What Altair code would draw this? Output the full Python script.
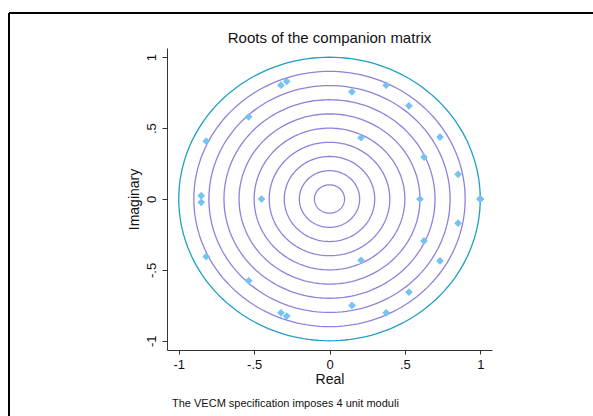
import altair as alt
import pandas as pd

# ---- data ----
root_re = [1.0, 1.0, 1.0, 1.0, 0.60, -0.451, -0.851, -0.851, -0.818, -0.818,
           -0.536, -0.536, -0.322, -0.284, -0.322, -0.284, 0.149, 0.149,
           0.376, 0.376, 0.527, 0.527, 0.209, 0.209, 0.733, 0.733,
           0.627, 0.627, 0.853, 0.853]
root_im = [0.0, 0.0, 0.0, 0.0, 0.0, 0.0, 0.023, -0.023, 0.408, -0.406,
           0.580, -0.577, 0.803, 0.829, -0.803, -0.826, 0.756, -0.751,
           0.803, -0.803, 0.657, -0.657, 0.432, -0.432, 0.437, -0.437,
           0.296, -0.296, 0.174, -0.171]
grid_radii = [0.1, 0.2, 0.3, 0.4, 0.5, 0.6, 0.7, 0.8, 0.9]
unit_radius = [1.0]
tick_values = [-1, -0.5, 0, 0.5, 1]
tick_labels = ["-1", "-.5", "0", ".5", "1"]
title_text = ["Roots of the companion matrix"]
note_text = ["The VECM specification imposes 4 unit moduli"]

FONT = "Liberation Sans"
W, H = 325, 302
LEFT, TOP = 167, 48

roots = pd.DataFrame({"re": root_re, "im": root_im})
circles = pd.DataFrame({
    "r": grid_radii + unit_radius,
    "kind": ["grid"] * len(grid_radii) + ["unit"] * len(unit_radius),
})

label_expr = " : ".join(
    f"datum.value == {v} ? '{l}'" for v, l in zip(tick_values, tick_labels)
) + " : ''"

xscale = alt.Scale(domain=[-1.078, 1.078], nice=False, zero=False)
yscale = alt.Scale(domain=[-1.065, 1.065], nice=False, zero=False)

x_axis = alt.Axis(values=tick_values, labelExpr=label_expr, grid=False,
                  domainColor="#333", tickColor="#333", tickSize=4,
                  labelFont=FONT, labelFontSize=13, labelColor="#111",
                  labelPadding=4, title="Real", titleFont=FONT,
                  titleFontSize=14, titleFontWeight="normal", titleColor="#111",
                  titleX=W / 2, titleY=29, titleBaseline="middle",
                  titleAlign="center", labelFlush=False)
y_axis = alt.Axis(values=tick_values, labelExpr=label_expr, grid=False,
                  domainColor="#333", tickColor="#333", tickSize=5,
                  labelFont=FONT, labelFontSize=13, labelColor="#111",
                  labelAngle=270, labelAlign="center", labelBaseline="bottom",
                  labelPadding=4, labelFlush=False,
                  title="Imaginary", titleFont=FONT, titleFontSize=14,
                  titleFontWeight="normal", titleColor="#111",
                  titleAngle=270, titleX=-33, titleY=H / 2,
                  titleBaseline="middle", titleAlign="center")

circle_layer = alt.Chart(circles).transform_calculate(
    ang="sequence(0, 362, 2)"
).transform_flatten(["ang"]).transform_calculate(
    cx="datum.r * cos(datum.ang * PI / 180)",
    cy="datum.r * sin(datum.ang * PI / 180)",
).mark_line(strokeWidth=1.3, clip=False).encode(
    x=alt.X("cx:Q", scale=xscale, axis=x_axis),
    y=alt.Y("cy:Q", scale=yscale, axis=y_axis),
    detail="r:N",
    order="ang:Q",
    color=alt.Color("kind:N", legend=None,
                    scale=alt.Scale(domain=["grid", "unit"],
                                    range=["#8f82dc", "#1f9fc4"])),
)

point_layer = alt.Chart(roots).mark_point(
    shape="diamond", filled=True, size=60, opacity=1, color="#74c3f2"
).encode(
    x=alt.X("re:Q", scale=xscale),
    y=alt.Y("im:Q", scale=yscale),
)

title = alt.Chart(pd.DataFrame({"t": title_text})).mark_text(
    align="center", baseline="middle", font=FONT, fontSize=15, color="#111"
).encode(text="t:N", x=alt.value(W / 2), y=alt.value(38 - TOP))

note = alt.Chart(pd.DataFrame({"t": note_text})).mark_text(
    align="left", baseline="alphabetic", font=FONT, fontSize=11, color="#111"
).encode(text="t:N", x=alt.value(172 - LEFT), y=alt.value(407 - TOP))

frame_top = alt.Chart(pd.DataFrame({"a": [0]})).mark_rule(
    color="#000", strokeWidth=2, clip=False
).encode(x=alt.value(9 - LEFT), x2=alt.value(700), y=alt.value(13 - TOP))
frame_left = alt.Chart(pd.DataFrame({"a": [0]})).mark_rule(
    color="#000", strokeWidth=2, clip=False
).encode(x=alt.value(9 - LEFT), y=alt.value(13 - TOP), y2=alt.value(500))

chart = alt.layer(circle_layer, point_layer, title, note, frame_top, frame_left).properties(
    width=W, height=H,
    autosize=alt.AutoSizeParams(type="none"),
    padding={"left": LEFT, "top": TOP, "right": 593 - LEFT - W,
             "bottom": 416 - TOP - H},
    background="white",
).configure_view(stroke=None)

chart.save("out.html", embed_options={"renderer": "svg", "actions": False})
